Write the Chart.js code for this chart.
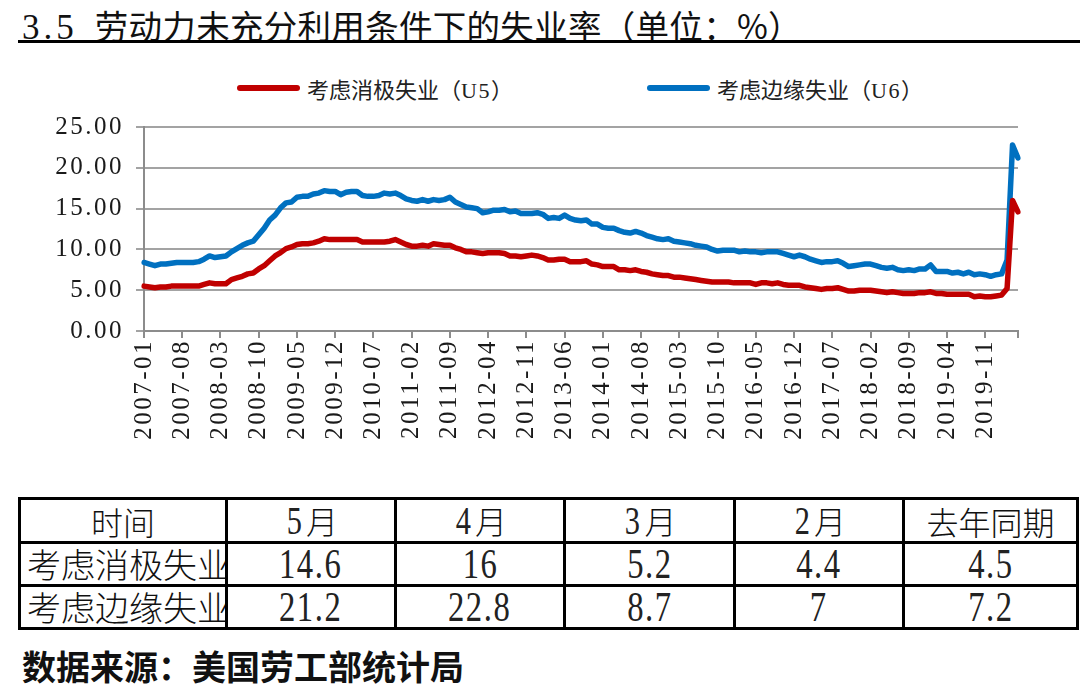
<!DOCTYPE html>
<html>
<head>
<meta charset="utf-8">
<script src="https://cdn.jsdelivr.net/npm/chart.js@4/dist/chart.umd.min.js"></script>
<style>
  html, body { margin: 0; padding: 0; background: #fff; }
  body { width: 1080px; height: 685px; position: relative; overflow: hidden; font-family: "Noto Sans CJK SC", sans-serif; color: #111; }
  #title { position: absolute; left: 22px; top: 0px; font-size: 33.5px; font-weight: 400; white-space: nowrap; letter-spacing: 0.3px; }
  #title .num { font-family: "Liberation Serif", serif; font-size: 35px; letter-spacing: 4px; margin-right: 17px; }
  #rule { position: absolute; left: 18px; top: 40px; width: 1062px; height: 3px; background: #000; }
  #chartBox { position: absolute; left: 0; top: 60px; width: 1080px; height: 400px; }
  .leg { position: absolute; top: 74px; height: 28px; display: flex; align-items: center; white-space: nowrap; font-size: 22px; color: #222; }
  .leg .sw { width: 63px; height: 6px; border-radius: 3px; margin-right: 7px; }
  .leg .lat { font-family: "Liberation Serif", serif; font-size: 22px; letter-spacing: 1.5px; }
  #tbl { position: absolute; left: 18px; top: 497px; border-collapse: collapse; table-layout: fixed; width: 1058px; }
  #tbl td { border: 3px solid #000; height: 40px; padding: 0; text-align: center; overflow: hidden; white-space: nowrap; font-size: 32px; font-weight: 300; line-height: 40px; }
  #tbl td.lab { text-align: left; padding-left: 6px; font-size: 34px; }
  #tbl td .n { display: inline-block; font-family: "Liberation Serif", serif; font-size: 43px; transform: scaleX(0.76); letter-spacing: 2px; color: #222; }
  #src { position: absolute; left: 22px; top: 641px; font-size: 34px; font-weight: 700; white-space: nowrap; }
</style>
</head>
<body>
<div id="title"><span class="num">3.5</span>劳动力未充分利用条件下的失业率（单位：%）</div>
<div id="rule"></div>
<div id="legend"></div>
<div id="chartBox"><canvas id="c" width="1080" height="400"></canvas></div>
<table id="tbl">
  <colgroup><col style="width:207px"><col style="width:169px"><col style="width:169px"><col style="width:170px"><col style="width:169px"><col style="width:174px"></colgroup>
  <tbody id="tbody"></tbody>
</table>
<div id="src">数据来源：美国劳工部统计局</div>
<script>
// ---- categories (monthly, 2007-01 .. 2020-05) ----
const startYear = 2007, monthCount = 161;
const months = [];
for (let i = 0; i < monthCount; i++) {
  const y = startYear + Math.floor(i / 12), m = (i % 12) + 1;
  months.push(y + '-' + (m < 10 ? '0' + m : m));
}
// ---- series ----
const seriesNames = ['考虑消极失业（U5）', '考虑边缘失业（U6）'];
const u5 = [
  5.5,5.4,5.3,5.4,5.4,5.5,5.5,5.5,5.5,5.5,5.5,5.7,
  5.9,5.8,5.8,5.8,6.3,6.5,6.7,7.0,7.1,7.6,8.0,8.6,
  9.2,9.6,10.1,10.3,10.6,10.7,10.7,10.8,11.0,11.3,11.2,11.2,
  11.2,11.2,11.2,11.2,10.9,10.9,10.9,10.9,10.9,11.0,11.2,10.9,
  10.6,10.4,10.4,10.5,10.4,10.7,10.6,10.5,10.5,10.2,10.0,9.7,
  9.7,9.6,9.5,9.6,9.6,9.6,9.5,9.2,9.2,9.1,9.2,9.3,
  9.2,9.0,8.7,8.7,8.8,8.8,8.5,8.5,8.5,8.6,8.2,8.1,
  7.9,7.9,7.9,7.5,7.5,7.4,7.5,7.3,7.2,7.0,6.9,6.8,
  6.8,6.6,6.6,6.5,6.4,6.3,6.2,6.1,6.0,6.0,6.0,6.0,
  5.9,5.9,5.9,5.9,5.7,5.9,5.9,5.8,5.9,5.7,5.6,5.6,
  5.6,5.4,5.3,5.2,5.1,5.2,5.2,5.3,5.1,4.9,4.9,5.0,
  5.0,5.0,4.9,4.8,4.7,4.8,4.7,4.6,4.6,4.6,4.7,4.7,
  4.8,4.6,4.6,4.5,4.5,4.5,4.5,4.5,4.2,4.3,4.2,4.2,
  4.3,4.4,5.2,16.0,14.6
];
const u6 = [
  8.4,8.2,8.0,8.2,8.2,8.3,8.4,8.4,8.4,8.4,8.5,8.8,
  9.2,9.0,9.1,9.2,9.7,10.1,10.5,10.8,11.0,11.8,12.6,13.6,
  14.2,15.1,15.7,15.8,16.4,16.5,16.5,16.8,16.9,17.2,17.1,17.1,
  16.7,17.0,17.1,17.1,16.6,16.5,16.5,16.6,16.9,16.8,16.9,16.6,
  16.2,16.0,15.9,16.1,15.9,16.1,16.0,16.1,16.4,15.8,15.5,15.2,
  15.1,15.0,14.5,14.6,14.8,14.8,14.9,14.6,14.7,14.4,14.4,14.4,
  14.5,14.3,13.8,13.9,13.8,14.2,13.8,13.6,13.5,13.6,13.1,13.1,
  12.7,12.6,12.6,12.3,12.1,12.0,12.2,12.0,11.7,11.5,11.3,11.2,
  11.3,11.0,10.9,10.8,10.7,10.5,10.4,10.3,10.0,9.8,9.9,9.9,
  9.9,9.7,9.8,9.7,9.7,9.6,9.7,9.7,9.7,9.5,9.3,9.1,
  9.3,9.1,8.8,8.6,8.4,8.5,8.5,8.6,8.3,7.9,8.0,8.1,
  8.2,8.2,8.0,7.8,7.7,7.8,7.5,7.4,7.5,7.4,7.6,7.6,
  8.1,7.3,7.3,7.3,7.1,7.2,7.0,7.2,6.9,7.0,6.9,6.7,
  6.9,7.0,8.7,22.8,21.2
];
const seriesColors = ['#C00000', '#0070C0'];
const yTicks = [0, 5, 10, 15, 20, 25];
const labelEvery = 7;

// ---- table data ----
const tableHeader = ['时间', '5月', '4月', '3月', '2月', '去年同期'];
const tableRowNames = ['考虑消极失业', '考虑边缘失业'];
const tableU5 = ['14.6', '16', '5.2', '4.4', '4.5'];
const tableU6 = ['21.2', '22.8', '8.7', '7', '7.2'];

// build table
(function () {
  const tb = document.getElementById('tbody');
  let h = '<tr>';
  tableHeader.forEach(t => {
    if (/^\d月$/.test(t)) h += '<td><span class="n" style="font-size:40px">' + t[0] + '</span>月</td>';
    else h += '<td>' + t + '</td>';
  });
  h += '</tr>';
  [tableU5, tableU6].forEach((row, r) => {
    h += '<tr><td class="lab">' + tableRowNames[r] + '</td>';
    row.forEach(v => { h += '<td><span class="n">' + v + '</span></td>'; });
    h += '</tr>';
  });
  tb.innerHTML = h;
})();

// build legend
(function () {
  const lg = document.getElementById('legend');
  const lefts = [237, 647];
  seriesNames.forEach((name, i) => {
    const d = document.createElement('div');
    d.className = 'leg';
    d.style.left = lefts[i] + 'px';
    const txt = name.replace(/(U\d)/, '<span class="lat">$1</span>');
    d.innerHTML = '<div class="sw" style="background:' + seriesColors[i] + '"></div><span>' + txt + '</span>';
    lg.appendChild(d);
  });
})();

const axisGray = '#8c8c8c';
const gridGray = '#a3a3a3';
const tickFont = { family: 'Liberation Serif', size: 25 };

const spacingPlugin = {
  id: 'letterSpacing',
  beforeInit(chart) { if ('letterSpacing' in chart.ctx) chart.ctx.letterSpacing = '2.5px'; },
  beforeUpdate(chart) { if ('letterSpacing' in chart.ctx) chart.ctx.letterSpacing = '2.5px'; },
  beforeDraw(chart) { if ('letterSpacing' in chart.ctx) chart.ctx.letterSpacing = '2.5px'; }
};

new Chart(document.getElementById('c'), {
  type: 'line',
  plugins: [spacingPlugin],
  data: {
    labels: months,
    datasets: [
      { label: seriesNames[0], data: u5, borderColor: seriesColors[0], backgroundColor: seriesColors[0],
        borderWidth: 5.5, pointRadius: 0, tension: 0, borderJoinStyle: 'round', borderCapStyle: 'round', fill: false },
      { label: seriesNames[1], data: u6, borderColor: seriesColors[1], backgroundColor: seriesColors[1],
        borderWidth: 5.5, pointRadius: 0, tension: 0, borderJoinStyle: 'round', borderCapStyle: 'round', fill: false }
    ]
  },
  options: {
    responsive: false,
    animation: false,
    events: [],
    layout: { padding: { top: 67, left: 0, right: 62, bottom: 0 } },
    plugins: { legend: { display: false }, tooltip: { enabled: false }, title: { display: false } },
    scales: {
      x: {
        type: 'category',
        offset: false,
        border: { display: true, color: axisGray, width: 2 },
        grid: {
          drawOnChartArea: false, drawTicks: true, tickLength: 7, lineWidth: 2,
          color: ctx => (ctx.index % labelEvery === 0 || ctx.index === months.length - 1) ? axisGray : 'rgba(0,0,0,0)'
        },
        ticks: {
          autoSkip: false, minRotation: 90, maxRotation: 90, padding: 1,
          font: tickFont, color: '#1a1a1a',
          callback: function (v, i) { return i % labelEvery === 0 ? months[i] : ''; }
        },
        afterFit: s => { s.height = 129; }
      },
      y: {
        min: 0, max: 25,
        afterBuildTicks: s => { s.ticks = yTicks.map(v => ({ value: v })); },
        border: { display: true, color: axisGray, width: 2 },
        grid: { color: gridGray, lineWidth: 2, drawTicks: true, tickLength: 8, tickColor: gridGray },
        ticks: { font: tickFont, color: '#1a1a1a', padding: 12, callback: v => Number(v).toFixed(2) },
        afterFit: s => { s.width = 144; }
      }
    }
  }
});
</script>
</body>
</html>
